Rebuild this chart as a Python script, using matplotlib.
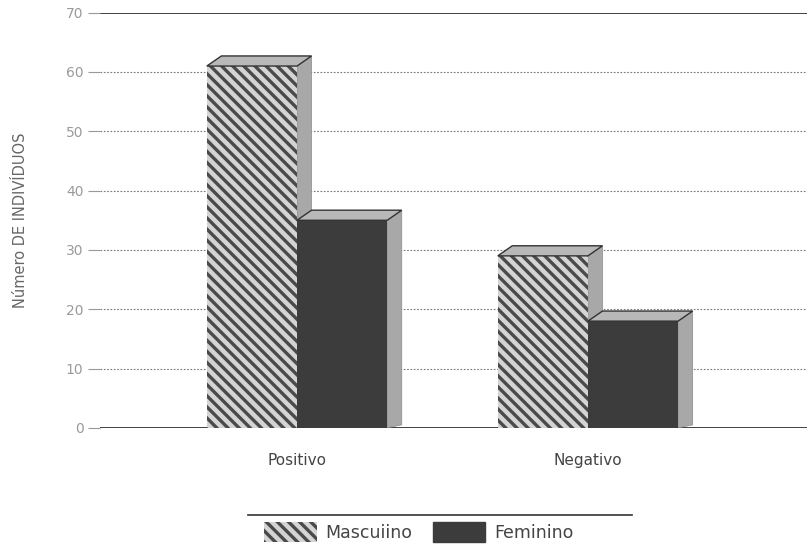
import matplotlib
matplotlib.use("Agg")
import matplotlib.pyplot as plt
from matplotlib.patches import Polygon, Patch
from matplotlib.lines import Line2D
import numpy as np

categories = ["Positivo", "Negativo"]
series_names = ["Mascuiino", "Feminino"]
masculino = [61, 29]
feminino = [35, 18]
yticks = [0, 10, 20, 30, 40, 50, 60, 70]

plt.rcParams['hatch.linewidth'] = 2.4
plt.rcParams['hatch.color'] = '#4a4a4a'

fig = plt.figure(figsize=(8.07, 5.5), dpi=100)
ax = fig.add_axes([0.124, 0.222, 0.876, 0.755])
ax.set_xlim(-0.677, 1.753)
ax.set_ylim(0, 70)

x = np.arange(len(categories))
w = 0.31
dx = 0.05
dy = 1.7

HATCH = '\\\\\\'
face = {"Mascuiino": dict(facecolor='#d4d4d4', hatch=HATCH, edgecolor='#4a4a4a'),
        "Feminino": dict(facecolor='#3c3c3c', hatch=None, edgecolor='#3c3c3c')}

# gridlines
for t in yticks:
    if t in (0, 70):
        ax.axhline(t, color='#333333', lw=1.3, zorder=1)
    else:
        ax.axhline(t, color='#777777', lw=0.8, ls=(0, (1.5, 1.5)), zorder=1)

for vals, name, off in [(masculino, "Mascuiino", -w / 2), (feminino, "Feminino", w / 2)]:
    for xi, v in zip(x, vals):
        left = xi + off - w / 2
        right = xi + off + w / 2
        st = face[name]
        ax.bar(xi + off, v, width=w, color=st['facecolor'], hatch=st['hatch'],
               edgecolor=st['edgecolor'], linewidth=0, zorder=3)
        # side face
        side = Polygon([[right, 0], [right + dx, dy * 0.3], [right + dx, v + dy], [right, v]],
                       closed=True, facecolor='#a8a8a8', edgecolor='#8a8a8a', lw=0.5, zorder=2)
        ax.add_patch(side)
        # top face
        top = Polygon([[left, v], [left + dx, v + dy], [right + dx, v + dy], [right, v]],
                      closed=True, facecolor='#b8b8b8', edgecolor='#333333', lw=1.0, zorder=4)
        ax.add_patch(top)

ax.set_yticks(yticks)
ax.set_yticklabels([str(t) for t in yticks], color='#9a9a9a', fontsize=10)
ax.tick_params(axis='y', length=9, color='#999999', pad=3)
ax.set_xticks(x)
ax.set_xticklabels(categories, fontsize=11, color='#444444')
ax.tick_params(axis='x', length=0, pad=18)
for s in ax.spines.values():
    s.set_visible(False)

fig.text(0.025, 0.60, "Número DE INDIVÍDUOS", rotation=90, ha='center', va='center',
         fontsize=10.5, color='#666666')

fig.add_artist(Line2D([0.307, 0.783], [0.064, 0.064], color='#333333', lw=1.2,
                      transform=fig.transFigure))
handles = [Patch(facecolor='#d4d4d4', hatch=HATCH, edgecolor='#4a4a4a', lw=0, label=series_names[0]),
           Patch(facecolor='#3c3c3c', edgecolor='#3c3c3c', label=series_names[1])]
fig.legend(handles=handles, loc='center', bbox_to_anchor=(0.519, 0.033), ncol=2,
           frameon=False, fontsize=12.5, handlelength=3.0, handleheight=1.4,
           handletextpad=0.5, columnspacing=1.2, labelcolor='#444444')

fig.savefig("out.png", dpi=100, facecolor='white')
